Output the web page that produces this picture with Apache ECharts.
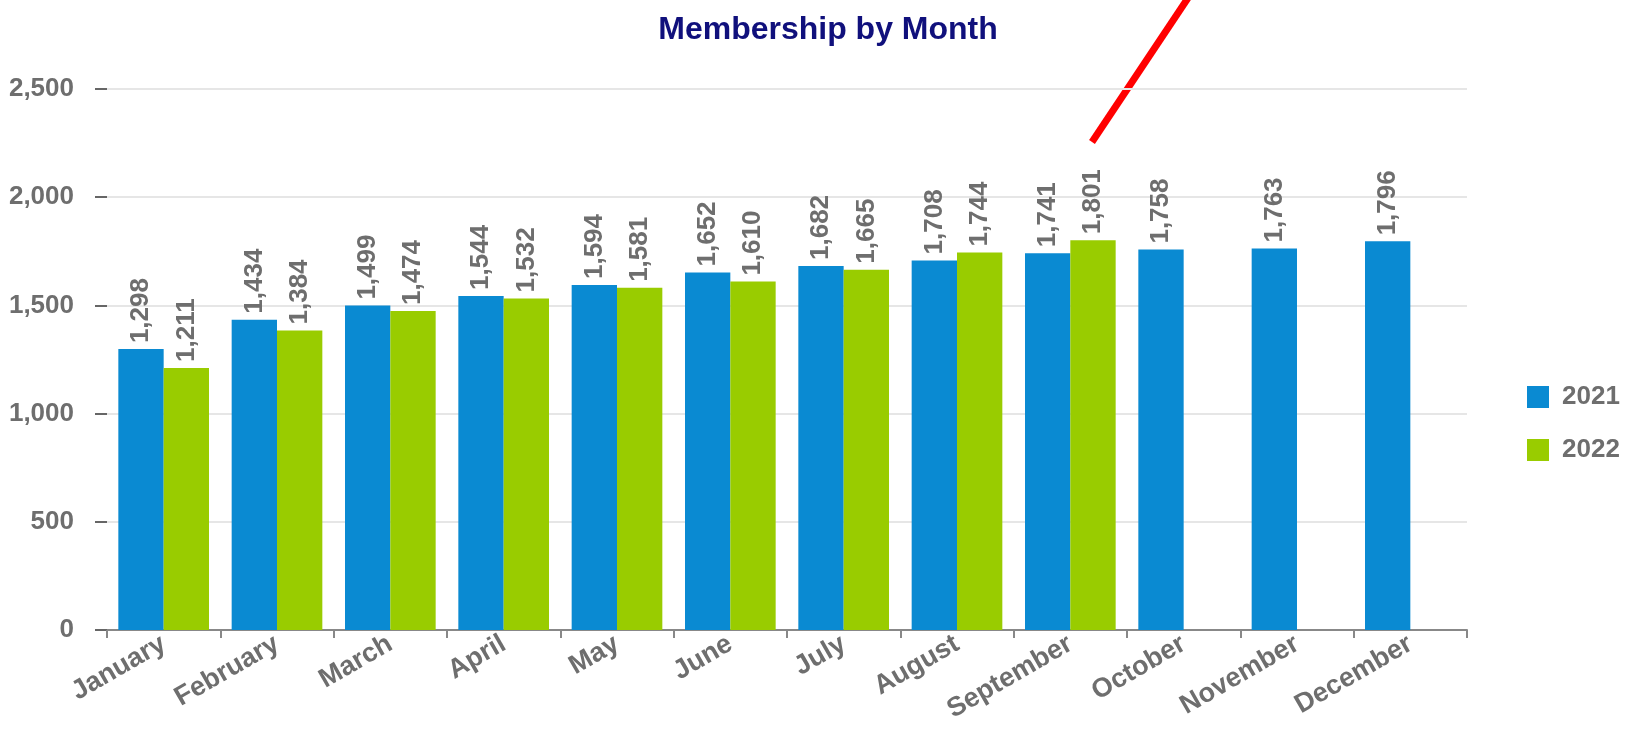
<!DOCTYPE html>
<html>
<head>
<meta charset="utf-8">
<title>Membership by Month</title>
<script src="https://cdn.jsdelivr.net/npm/echarts@6/dist/echarts.min.js"></script>
<style>
html, body { margin: 0; padding: 0; background: #fff; }
#chart { width: 1627px; height: 733px; }
</style>
</head>
<body>
<div id="chart"></div>
<script>
var months = ['January', 'February', 'March', 'April', 'May', 'June', 'July', 'August', 'September', 'October', 'November', 'December'];
var years = ['2021', '2022'];
var members2021 = [1298, 1434, 1499, 1544, 1594, 1652, 1682, 1708, 1741, 1758, 1763, 1796];
var members2022 = [1211, 1384, 1474, 1532, 1581, 1610, 1665, 1744, 1801, null, null, null];
var yTicks = [0, 500, 1000, 1500, 2000, 2500];

var fontFam = '"Liberation Sans", Arial, sans-serif';
var grey = '#6e6e6e';

function fmt(v) {
	return Number(v).toLocaleString('en-US');
}

function barLabel() {
	return {
		show: true,
		position: 'top',
		rotate: 90,
		align: 'left',
		verticalAlign: 'middle',
		distance: 6,
		color: grey,
		fontFamily: fontFam,
		fontWeight: 'bold',
		fontSize: 26,
		formatter: function (p) { return fmt(p.value); }
	};
}

var chart = echarts.init(document.getElementById('chart'));
chart.setOption({
	animation: false,
	title: {
		text: 'Membership by Month',
		left: 823,
		textAlign: 'center',
		top: 9,
		textStyle: { color: '#10107c', fontFamily: fontFam, fontWeight: 'bold', fontSize: 32 }
	},
	legend: {
		data: years,
		orient: 'vertical',
		left: 1522,
		top: 379,
		itemWidth: 22,
		itemHeight: 22,
		itemGap: 27,
		icon: 'rect',
		selectedMode: false,
		textStyle: { color: grey, fontFamily: fontFam, fontWeight: 'bold', fontSize: 26, padding: [0, 0, 0, 8] }
	},
	grid: { left: 107, right: 160, top: 89, bottom: 103, containLabel: false },
	xAxis: {
		type: 'category',
		data: months,
		axisLine: { lineStyle: { color: '#888', width: 2 } },
		axisTick: { show: true, length: 8, lineStyle: { color: '#888', width: 2 } },
		axisLabel: {
			rotate: 30,
			margin: 12,
			interval: 0,
			color: grey,
			fontFamily: fontFam,
			fontWeight: 'bold',
			fontSize: 27
		}
	},
	yAxis: {
		type: 'value',
		min: yTicks[0],
		max: yTicks[yTicks.length - 1],
		interval: 500,
		axisLine: { show: false },
		axisTick: { show: true, length: 12, lineStyle: { color: '#666', width: 2 } },
		splitLine: { lineStyle: { color: '#e6e6e6', width: 2 } },
		axisLabel: {
			margin: 33,
			color: grey,
			fontFamily: fontFam,
			fontWeight: 'bold',
			fontSize: 26,
			formatter: function (v) { return fmt(v); }
		}
	},
	series: [
		{
			name: years[0],
			type: 'bar',
			data: members2021,
			barGap: '0%',
			barCategoryGap: '20%',
			itemStyle: { color: '#0a8ad2' },
			label: barLabel()
		},
		{
			name: years[1],
			type: 'bar',
			data: members2022,
			itemStyle: { color: '#99cc00' },
			label: barLabel()
		}
	],
	graphic: [
		{
			type: 'line',
			shape: { x1: 1092, y1: 142, x2: 1188, y2: -2 },
			style: { stroke: '#ff0000', lineWidth: 7 }
		}
	]
});
</script>
</body>
</html>
